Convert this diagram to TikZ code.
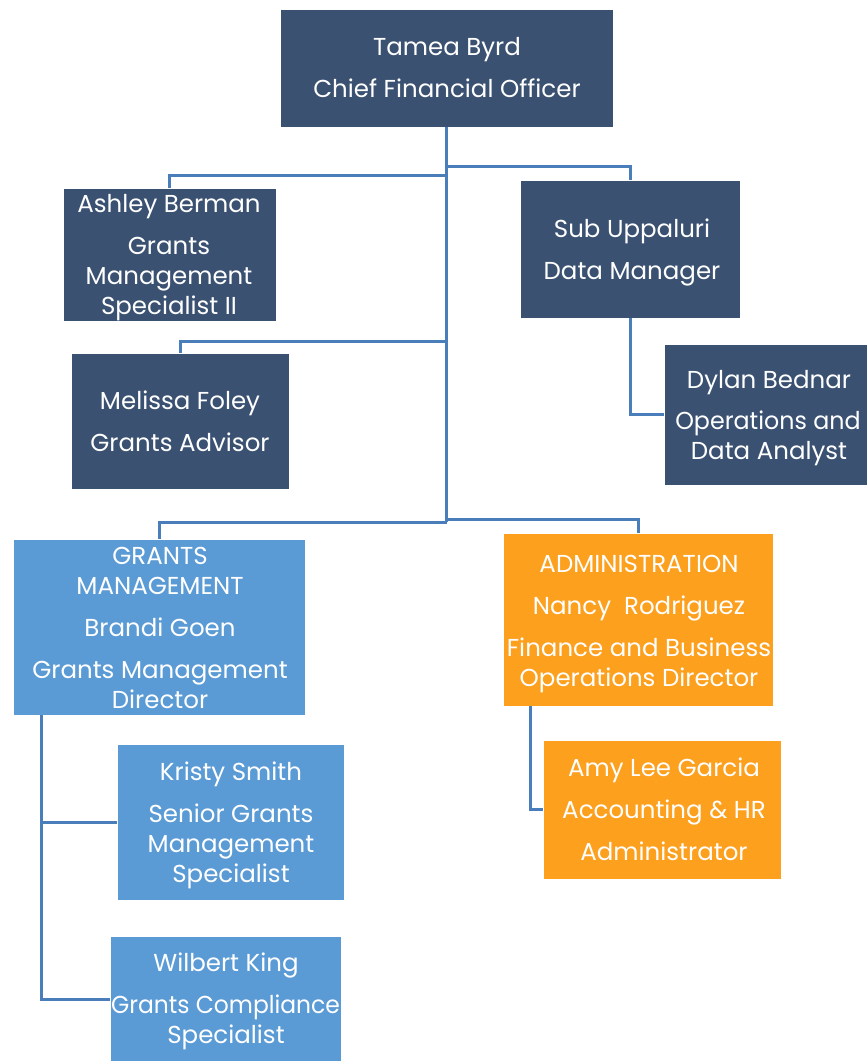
\documentclass[tikz,border=0pt]{standalone}
\usepackage{fontspec}
\setmainfont{Poppins}
\definecolor{darkbox}{HTML}{3A5172}
\definecolor{bluebox}{HTML}{5B9BD5}
\definecolor{orangebox}{HTML}{FCA01E}
\definecolor{connline}{HTML}{4A7EBB}
\tikzset{
  dbox/.style={fill=darkbox, draw=white, line width=0.8pt, inner sep=0pt, outer sep=0pt},
  bbox/.style={fill=bluebox, draw=white, line width=0.8pt, inner sep=0pt, outer sep=0pt},
  obox/.style={fill=orangebox, draw=white, line width=0.8pt, inner sep=0pt, outer sep=0pt},
  txt/.style={text=white, inner sep=0pt, anchor=base, font=\fontsize{24.5}{29}\selectfont},
  conn/.style={draw=connline, line width=3pt}
}
\begin{document}
\begin{tikzpicture}[x=1pt, y=-1pt]
\useasboundingbox (0,0) rectangle (867,1061);
% boxes
\node[dbox, minimum width=333, minimum height=118] (cfo) at (446.5,68) {};
\node[dbox, minimum width=213, minimum height=133] (ashley) at (169.5,254.5) {};
\node[dbox, minimum width=218, minimum height=136] (melissa) at (180,421) {};
\node[dbox, minimum width=220, minimum height=138] (sub) at (630,249) {};
\node[dbox, minimum width=205, minimum height=141] (dylan) at (766.5,414.5) {};
\node[bbox, minimum width=292, minimum height=176] (grants) at (159,627) {};
\node[obox, minimum width=270, minimum height=173] (admin) at (638,619.5) {};
\node[bbox, minimum width=227, minimum height=156] (kristy) at (230.5,822) {};
\node[bbox, minimum width=231, minimum height=127] (wilbert) at (225.5,999.5) {};
\node[obox, minimum width=238, minimum height=139] (amy) at (662,809.5) {};
% junction coordinates
\coordinate (jash) at (446.5,175);
\coordinate (jsub) at (446.5,166);
\coordinate (jmel) at (446.5,341);
\coordinate (jgra) at (446.5,522);
\coordinate (jadm) at (446.5,519);
\coordinate (jgk) at (41,715);
\coordinate (jaa) at (530,706);
% connectors
\draw[conn] (cfo.south) -- (jgra);
\draw[conn] (jash) -| (ashley.north);
\draw[conn] (jsub) -| (sub.north);
\draw[conn] (jmel) -| (melissa.north);
\draw[conn] (jgra) -| (grants.north);
\draw[conn] (jadm) -| (admin.north);
\draw[conn] (sub.south) |- (dylan.west);
\draw[conn] (jgk) |- (kristy.west);
\draw[conn] (jgk) |- (wilbert.west);
\draw[conn] (jaa) |- (amy.west);
% texts
\node[txt] (cfo1) at (447,55) {Tamea Byrd};
\node[txt] (cfo2) at (447,97) {Chief Financial Officer};
\node[txt] (ash1) at (169,212) {Ashley Berman};
\node[txt] (ash2) at (169,254) {Grants};
\node[txt] (ash3) at (169,284) {Management};
\node[txt] (ash4) at (169,314) {Specialist II};
\node[txt] (sub1) at (632,237) {Sub Uppaluri};
\node[txt] (sub2) at (632,279) {Data Manager};
\node[txt] (mel1) at (180,409) {Melissa Foley};
\node[txt] (mel2) at (180,451) {Grants Advisor};
\node[txt] (dyl1) at (769,388) {Dylan Bednar};
\node[txt] (dyl2) at (768,429) {\scalebox{0.97}[1]{Operations and}};
\node[txt] (dyl3) at (769,459) {Data Analyst};
\node[txt] (gra1) at (160,564) {GRANTS};
\node[txt] (gra2) at (160,594) {MANAGEMENT};
\node[txt] (gra3) at (160,636) {Brandi Goen};
\node[txt] (gra4) at (160,678) {Grants Management};
\node[txt] (gra5) at (160,708) {Director};
\node[txt] (adm1) at (639,572) {ADMINISTRATION};
\node[txt] (adm2) at (639,614) {Nancy\ \ Rodriguez};
\node[txt] (adm3) at (639,656) {Finance and Business};
\node[txt] (adm4) at (639,686) {Operations Director};
\node[txt] (kri1) at (231,780) {Kristy Smith};
\node[txt] (kri2) at (231,822) {Senior Grants};
\node[txt] (kri3) at (231,852) {Management};
\node[txt] (kri4) at (231,882) {Specialist};
\node[txt] (wil1) at (226,971) {Wilbert King};
\node[txt] (wil2) at (225.5,1013) {\scalebox{0.955}[1]{Grants Compliance}};
\node[txt] (wil3) at (226,1043) {Specialist};
\node[txt] (amy1) at (664,776) {Amy Lee Garcia};
\node[txt] (amy2) at (664,818) {Accounting \& HR};
\node[txt] (amy3) at (664,860) {Administrator};
\end{tikzpicture}
\end{document}
